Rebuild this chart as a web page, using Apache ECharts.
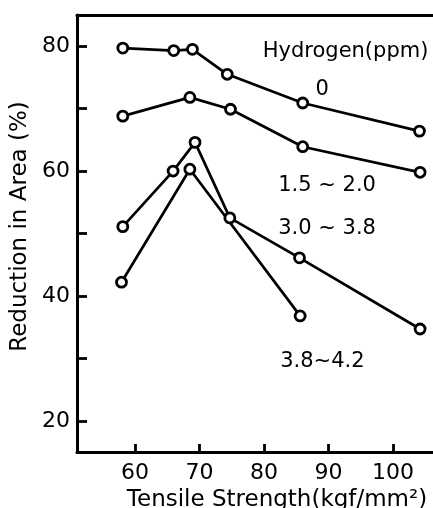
<!DOCTYPE html>
<html>
<head>
<meta charset="utf-8">
<script src="https://cdn.jsdelivr.net/npm/echarts@6/dist/echarts.min.js"></script>
<style>
html,body{margin:0;padding:0;background:#fff;}
#chart{width:433px;height:508px;}
</style>
</head>
<body>
<div id="chart"></div>
<script>
// 数据: 拉伸强度 (kgf/mm2) vs 断面收缩率 (%)
const h0X = [58.1, 66.0, 68.9, 74.3, 86.0, 104.1];
const h0Y = [79.7, 79.3, 79.5, 75.5, 70.9, 66.4];
const h15X = [58.1, 68.5, 74.8, 86.0, 104.2];
const h15Y = [68.8, 71.8, 69.9, 63.9, 59.8];
const h30X = [58.1, 65.9, 69.3, 74.7, 85.5, 104.2];
const h30Y = [51.1, 60.0, 64.6, 52.5, 46.1, 34.7];
const h38X = [57.9, 68.5, 85.6];
const h38Y = [42.2, 60.3, 36.8];

const xTicks = [60, 70, 80, 90, 100];
const yTicks = [20, 30, 40, 50, 60, 70, 80];
const yLabels = [20, 40, 60, 80];

// 标注文字 (数据坐标)
const notes = [
    {text: 'Hydrogen(ppm)', at: [79.8, 79.2]},
    {text: '0', at: [88.0, 73.0]},
    {text: '1.5 ~ 2.0', at: [82.2, 57.7]},
    {text: '3.0 ~ 3.8', at: [82.2, 50.8]},
    {text: '3.8~4.2', at: [82.5, 29.5]}
];

const FONT = 'DejaVu Sans';
const pair = (xs, ys) => xs.map((x, i) => [x, ys[i]]);

function lineSeries(name, data){
    return {
        name: name,
        type: 'line',
        data: data,
        symbol: 'circle',
        symbolSize: 10,
        itemStyle: {color: '#fff', borderColor: '#000', borderWidth: 2.8},
        lineStyle: {color: '#000', width: 2.7},
        animation: false,
        z: 3
    };
}

const chart = echarts.init(document.getElementById('chart'));
const option = {
    backgroundColor: '#fff',
    animation: false,
    grid: {left: 77, right: 0, top: 15, bottom: 56, containLabel: false, outerBoundsMode: 'none'},
    xAxis: [{
        type: 'value',
        min: 51,
        max: 106.2,
        name: 'Tensile Strength(kgf/mm²)',
        nameLocation: 'middle',
        nameGap: 37,
        nameTextStyle: {fontFamily: FONT, fontSize: 23, color: '#000', padding: [0, 0, 0, 44]},
        axisLine: {show: true, lineStyle: {color: '#000', width: 3}},
        axisTick: {show: true, inside: true, length: 8, customValues: xTicks, lineStyle: {color: '#000', width: 2.8}},
        axisLabel: {customValues: xTicks, margin: 10, fontFamily: FONT, fontSize: 22, color: '#000'},
        splitLine: {show: false}
    }, {
        type: 'value',
        position: 'top',
        min: 51,
        max: 106.2,
        axisLine: {show: true, lineStyle: {color: '#000', width: 3}},
        axisTick: {show: false},
        axisLabel: {show: false},
        splitLine: {show: false}
    }],
    yAxis: {
        type: 'value',
        min: 15,
        max: 85,
        name: 'Reduction in Area (%)',
        nameLocation: 'middle',
        nameRotate: 90,
        nameGap: 38,
        nameTextStyle: {fontFamily: FONT, fontSize: 23, color: '#000', padding: [0, 0, 0, 14]},
        axisLine: {show: true, lineStyle: {color: '#000', width: 3}},
        axisTick: {show: true, inside: true, length: 10, customValues: yTicks, lineStyle: {color: '#000', width: 2.8}},
        axisLabel: {customValues: yLabels, margin: 7, fontFamily: FONT, fontSize: 22, color: '#000'},
        splitLine: {show: false}
    },
    series: [
        lineSeries('0', pair(h0X, h0Y)),
        lineSeries('1.5~2.0', pair(h15X, h15Y)),
        lineSeries('3.0~3.8', pair(h30X, h30Y)),
        lineSeries('3.8~4.2', pair(h38X, h38Y))
    ]
};
chart.setOption(option);

// 标注文字转像素位置
chart.setOption({
    graphic: notes.map(n => {
        const p = chart.convertToPixel({xAxisIndex: 0, yAxisIndex: 0}, n.at);
        return {
            type: 'text',
            x: p[0],
            y: p[1],
            style: {
                text: n.text,
                fontFamily: FONT,
                fontSize: 21,
                fill: '#000',
                verticalAlign: 'middle'
            }
        };
    })
});
</script>
</body>
</html>
